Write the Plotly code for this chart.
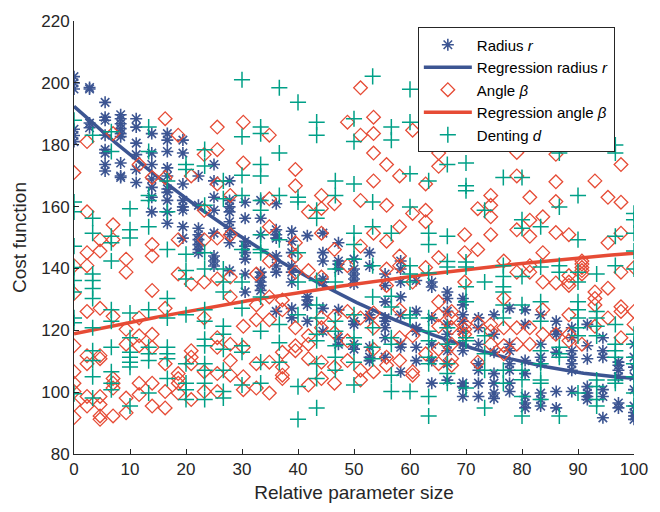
import numpy as np
import plotly.graph_objects as go

# ---- data (values per x-column) ----
radius_cols = [
    [202, 200, 198, 185, 183, 181],
    [198.5, 198, 187, 185.5],
    [193.7, 188.9, 187.9, 183.1, 178.4, 177.3, 173.6, 171.5],
    [189.7, 188.4, 186.8, 185.2, 183.6, 182.6, 174.1, 169.9, 169.4],
    [188.4, 185.7, 180.5, 176.8, 172, 167.8],
    [183.6, 177.3, 173.6, 168.9, 166.2, 163, 158.3],
    [183.6, 181.5, 177.8, 172.5, 169.9, 165.7, 164.6, 162, 158.3, 154.6],
    [181.5, 177.3, 167.3, 162, 159.9, 158.8, 153.5, 149.8],
    [169.9, 160.4, 153, 150.9, 149.3, 147.7, 146.1, 145.1],
    [173.6, 168.3, 163, 158.8, 151.4, 144, 142.4, 140.8],
    [168.3, 162, 159.9, 158.3, 155.1, 153, 150.9, 148.3, 139.3],
    [161.4, 156.2, 148.8, 147.2, 145.1, 143, 138.2, 132.4],
    [162, 156.2, 150.9, 138.8, 137.2, 135.6, 134.5, 132.9],
    [160.9, 152.5, 150.9, 149.8, 144, 140.8, 138.8, 126.1],
    [152, 148.8, 145.1, 140.8, 138.8, 135.6, 127.1, 124],
    [150.6, 130.8, 129.8, 128.2, 122.9],
    [151.4, 145.1, 142.4, 136.6, 135.6, 127.1, 119.7],
    [148.3, 142.4, 141.4, 139.8, 126.6, 117.6, 115.5],
    [143, 139.8, 138.2, 136.6, 135, 122.9, 121.9, 115.5, 113.9],
    [145.1, 140.8, 125, 124, 114.5, 111.3, 110.2],
    [138.2, 134.5, 129.2, 124, 122.9, 120.8, 117.6, 111.3],
    [142.4, 139.8, 135.6, 130.8, 125, 115.5, 114.5, 106.6],
    [136.1, 126.1, 120.8, 119.7, 114.5, 110.2],
    [135.6, 134, 124, 115.5, 110.2, 102.9],
    [132.4, 130.3, 126.1, 121.9, 118.7, 115.5, 113.4, 109.2, 103.9],
    [130.3, 128.2, 125, 122.9, 119.7, 115.5, 113.4, 102.9, 101.8, 98.6],
    [124, 120.8, 115.5, 109.2, 107.1, 102.9, 98.6],
    [125, 118.7, 112.9, 106, 102.9, 99.7, 98],
    [127.1, 115.5, 113.4, 109.2, 107.1, 102.9, 100.2],
    [126.6, 121.9, 110.2, 106, 98.6, 96.5, 94.9],
    [125, 115.5, 111.3, 109.2, 99.7, 97.6, 95.5],
    [122.9, 119.7, 118.7, 112.9, 100.2, 94.9],
    [120.8, 117.6, 113.4, 111.3, 109.2, 107.1, 100.2],
    [121.9, 115, 110.8, 101.8, 99.7, 98.6, 97.6],
    [117.6, 113.4, 111.3, 100.8, 98.6, 91.7],
    [109.7, 108.7, 107.1, 105, 96.5, 94.9],
    [115.5, 111.3, 108.1, 105, 100.8, 95.5, 93.4, 92.3, 91.2],
]

angle_cols = [
    [171, 140.9, 131.9, 115, 106.6, 102.9, 100.2, 96, 91.8],
    [181, 158.3, 145.1, 140.9, 126.1, 111.8, 109.2, 98.6, 95.5],
    [149.3, 145.6, 127.1, 111.8, 110.8, 98.6, 96, 92.3, 91.2],
    [183.6, 154.1, 149.3, 124.5, 104.4, 102.9, 101.3, 92.3],
    [143, 138.8, 120.3, 115.5, 98.1, 93.3],
    [173.6, 124, 118.2, 115, 102.9, 99.2],
    [169.4, 147.7, 144, 132.9, 118.7, 114.5, 102.9, 95.5],
    [188.4, 169.4, 127.1, 109.2, 100.2, 94.9],
    [183.1, 149.3, 138.2, 106, 104.4, 102.9, 99.7],
    [169.9, 135, 113.4, 111.3, 109.2, 97.6],
    [176.8, 158.8, 149.3, 135.6, 124, 106.6, 100.2],
    [185.7, 178.4, 167.3, 149.8, 136.6, 117.6, 114.5, 106, 100.2],
    [163.6, 150.9, 137.2, 130.8, 115.5, 110.2, 105.5],
    [187.3, 174.1, 121.3, 114.5, 105, 100.8],
    [138.2, 128.2, 123.4, 109.2, 101.3],
    [183.1, 162.5, 153.5, 142.4, 130.8, 123.4, 109.7, 99.7],
    [129.8, 126.6, 112.9, 108.1, 105.5, 104.4],
    [172, 166.7, 148.3, 144, 138.8, 120.8, 115, 113.4],
    [158.3, 139.3, 118.2, 115.5, 110.8, 102.3],
    [163.6, 159.4, 151.4, 137.2, 124, 120.8, 109.7, 104.4],
    [160.9, 146.1, 124.5, 119.2, 108.1, 102.9],
    [187.3, 140.9, 126.1, 116.6, 110.2],
    [198.4, 183.1, 162, 147.2, 124, 107.1, 103.9],
    [188.9, 183.6, 177.3, 168.3, 151.4, 125.6, 120.8, 113.9, 106.6],
    [173.6, 160.4, 148.8, 139.8, 134.5, 111.3, 108.7],
    [169.9, 153.5, 144, 140.9, 126.6, 117.6, 110.2],
    [184.7, 157.8, 135.6, 118.2, 106.6, 105.5],
    [167.3, 158.8, 155.1, 140.3, 112.4],
    [177.3, 173, 143.5, 129.2, 125, 121.3, 113.9, 109.2],
    [126.1, 124, 120.8, 115.5, 110.9, 108.7],
    [150.9, 145.1, 135.6, 121.9, 120.3, 118.7],
    [159.3, 146.1, 122.4, 109.7],
    [163.6, 160.4, 156.7, 150.9, 121.9, 119.7, 115.5],
    [142.4, 130.3, 120.8, 115, 112.4],
    [177.5, 169.9, 152.5, 138.8, 120.8, 115.5],
    [163, 155.6, 150.4, 140.9, 138.8, 120.8, 115.5],
    [156.7, 145.1, 135.6, 126.6, 118.7],
    [176.9, 168, 161.6, 151.6, 135.3, 118.7],
    [150.9, 137.7, 135.6, 134.5, 125, 118.7, 116.6],
    [142.4, 141.4, 140.3, 139.3, 138.2, 115.5],
    [168.3, 132.4, 130.3, 128.2, 121.3],
    [163, 148.3, 133.6, 124],
    [173.6, 161.4, 151.4, 138.8, 127.6, 126.1, 117.6],
    [140.3, 126.1, 121.9],
]

denting_cols = [
    [187.9, 161.5, 158.3, 147.2, 140.3, 136.1, 132.4, 124, 122.4, 99.5],
    [183.1, 156.2, 151.4, 138.2, 136.1, 133.5, 130.3, 120.8, 113.4, 110.2, 105, 98.1],
    [184.2, 177.8, 150.4, 148.3, 142.4, 126.6, 122.9, 114.5, 106.6, 102.9, 100.8],
    [159.3, 152.5, 149.8, 125.6, 117.6, 112.9, 111.3, 109.7, 108.1, 95.5],
    [185.7, 177.8, 163.6, 162, 153.5, 126.6, 114.5, 112.4, 110.2, 99.7],
    [168.3, 158.3, 146.1, 130.3, 124, 114.5, 112.4, 110.8, 104.4],
    [173.6, 172, 144.6, 139.3, 136.6, 125, 109.2, 102.9, 100.8, 97.6],
    [178.4, 173.1, 160.4, 145.1, 139.8, 126.6, 122.9, 117.1, 115, 109.2, 107.1, 102.9, 97.6],
    [168.3, 162.5, 139.8, 135.6, 132.4, 121.3, 118.7, 113.9, 107.1, 100.2, 98.1],
    [201, 182.6, 170.1, 163.6, 146.1, 135.6, 127.1, 115, 112.9, 102.3],
    [185.7, 183.6, 173.6, 169.9, 162, 158.8, 150.9, 146.1, 145.1, 130.8, 119.7, 109.7, 102.9],
    [198.4, 177.3, 163.6, 149.3, 121.9, 116, 109.7],
    [193.7, 163, 161.5, 145.1, 135.6, 125, 101.8, 91.2],
    [187.3, 183.1, 158.8, 156.2, 136.1, 128.2, 124, 118.7, 116.6, 109.2, 104.4, 94.9],
    [168.3, 163.6, 139.8, 135.6, 122.9, 119.7, 115, 111.3, 107.1],
    [188.4, 181, 167.3, 151.4, 147.7, 143, 125, 117.6, 115.5, 109.7, 102.3],
    [202.1, 161.5, 153.5, 140.9, 130.8, 120.8, 114.5, 110.8],
    [185.7, 181.5, 151.4, 131, 127.5, 117.6, 115.5, 105.5, 100.2],
    [197.9, 187.3, 170.6, 159.9, 140.9, 138.2, 135.6, 125, 124, 100.2],
    [168.3, 151.4, 147.7, 138.5, 124, 119.7, 116.6, 111.3, 109.2, 98.6, 92.3],
    [173.6, 150.4, 142.2, 140.5, 120.8, 115.5, 109.2, 106, 102.9],
    [174.1, 166.7, 165.1, 142.1, 140.5, 134.1, 129.2, 117.6, 116.6, 101.3],
    [158.8, 135.6, 118.2, 112.4, 107.1, 94.9],
    [169.4, 140.9, 137.4, 134.1, 132.4, 128.2, 124, 107.1, 102.9],
    [169.4, 155.7, 153, 137.4, 128.2, 107.1, 104, 98.6, 92.3],
    [153.5, 140.5, 129.2, 122.9, 113.4, 109.2, 103.9, 102.9, 97.6],
    [177.3, 159.9, 140.9, 138.8, 114.5, 112.4, 111.3, 92.3],
    [163.6, 149.3, 138.8, 135.6, 129.2, 126.6, 124, 120.8, 118.2, 99.7],
    [138.2, 126.1, 124, 121.3, 118.2, 103.9, 101.8, 97.6, 95.5],
    [179.9, 177.3, 150.4, 140.9, 121.9, 115.5, 113.4, 111.3, 103.9, 102.9],
    [157.8, 155.7, 151.4, 145.6, 139.8, 118.7, 115.5, 111.3, 109.2, 105, 99.7, 95.5],
]

# regression curve of the angle, coefficients (x^2, x, 1)
angle_regression_coef = [-0.0012, 0.38, 118.9]

x_ticks = [0, 10, 20, 30, 40, 50, 60, 70, 80, 90, 100]
y_ticks = [80, 100, 120, 140, 160, 180, 200, 220]


def flatten(cols):
    grid = np.linspace(0, 100, len(cols))
    xs, ys = [], []
    for gx, col in zip(grid, cols):
        xs += [gx] * len(col)
        ys += list(col)
    return np.array(xs), np.array(ys)


rx, ry = flatten(radius_cols)
ax_, ay = flatten(angle_cols)
dx, dy = flatten(denting_cols)

xfit = np.linspace(0, 100, 201)
r_fit = np.polyval(np.polyfit(rx, ry, 2), xfit)
a_fit = np.polyval(angle_regression_coef, xfit)

BLUE = "#3c5592"
RED = "#e64b35"
GREEN = "#00a087"
FONT = "Liberation Sans, Arial, sans-serif"
INK = "#262626"

fig = go.Figure()
fig.add_trace(go.Scatter(x=rx, y=ry, mode="markers", name="Radius <i>r</i>",
                         marker=dict(symbol="asterisk-open", size=10, color=BLUE,
                                     line=dict(color=BLUE, width=1.6))))
fig.add_trace(go.Scatter(x=xfit, y=r_fit, mode="lines", name="Regression radius <i>r</i>",
                         line=dict(color=BLUE, width=3.5)))
fig.add_trace(go.Scatter(x=ax_, y=ay, mode="markers", name="Angle <i>β</i>",
                         marker=dict(symbol="diamond-open", size=10.5, color=RED,
                                     line=dict(color=RED, width=1.3))))
fig.add_trace(go.Scatter(x=xfit, y=a_fit, mode="lines", name="Regression angle <i>β</i>",
                         line=dict(color=RED, width=3.5)))
fig.add_trace(go.Scatter(x=dx, y=dy, mode="markers", name="Denting <i>d</i>",
                         marker=dict(symbol="cross-thin-open", size=11.5, color=GREEN,
                                     line=dict(color=GREEN, width=1.5))))

axis_common = dict(showline=True, linecolor=INK, linewidth=1, mirror=False,
                   ticks="inside", ticklen=5, tickcolor=INK, tickwidth=1,
                   showgrid=False, zeroline=False,
                   tickfont=dict(family=FONT, size=17, color=INK))

fig.update_layout(
    width=660, height=512,
    margin=dict(l=74, r=26, t=14, b=56),
    plot_bgcolor="white", paper_bgcolor="white",
    font=dict(family=FONT, color=INK),
    xaxis=dict(range=[0, 100], tickvals=x_ticks,
               title=dict(text="Relative parameter size", font=dict(family=FONT, size=19, color=INK), standoff=7),
               **axis_common),
    yaxis=dict(range=[80, 220], tickvals=y_ticks,
               title=dict(text="Cost function", font=dict(family=FONT, size=19, color=INK), standoff=9),
               **axis_common),
    legend=dict(x=0.614, y=0.985, xanchor="left", yanchor="top",
                bordercolor=INK, borderwidth=1, bgcolor="white",
                font=dict(family=FONT, size=15, color="#000000"),
                itemwidth=48, tracegroupgap=0),
    showlegend=True,
)

fig.write_html("out.html")
